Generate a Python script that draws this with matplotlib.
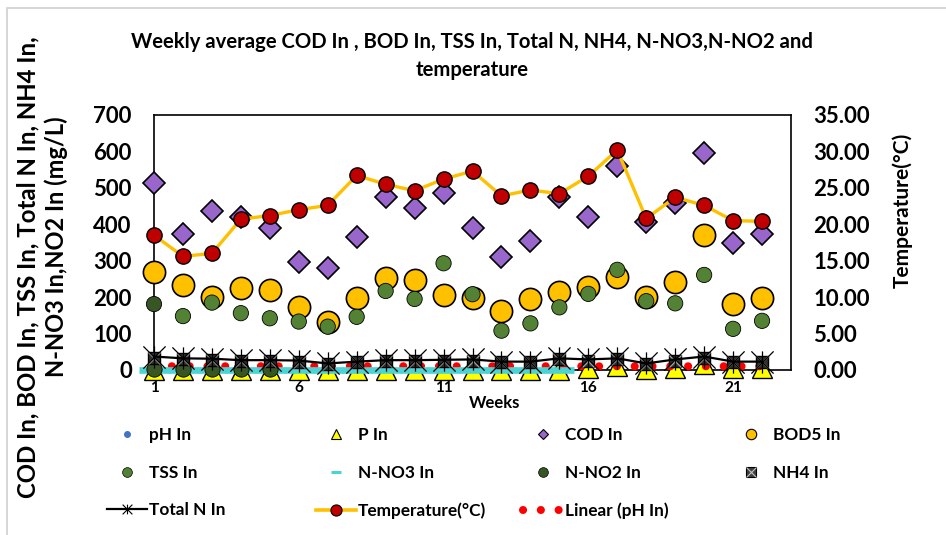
import numpy as np
import matplotlib
matplotlib.use("Agg")
import matplotlib.pyplot as plt
from matplotlib.lines import Line2D
from matplotlib.path import Path
from matplotlib.patches import Rectangle

plt.rcParams['font.family'] = ['Lato', 'DejaVu Sans']
plt.rcParams['font.weight'] = 'bold'

# weekly averages
weeks = np.arange(1, 23)
ph_in = [10.4, 10.1, 10.3, 10.5, 10.0, 10.3, 10.4, 10.1, 10.3, 10.4, 10.2,
         10.1, 10.5, 10.3, 10.4, 10.1, 10.2, 10.4, 10.0, 10.3, 10.4, 10.1]
p_in = [0.5, 0.5, 0.5, 0.5, 0.5, 0.5, 0.5, 0.5, 0.5, 0.5, 0.5,
        0.5, 0.5, 0.5, 0.5, 5, 11, 4, 6, 16, 6, 5]
cod_in = [512, 372, 436, 419, 389, 297, 281, 366, 476, 444, 487,
          391, 309, 354, 476, 421, 560, 405, 458, 597, 350, 372]
bod5_in = [270, 233, 201, 224, 220, 174, 133, 197, 252, 247, 206,
           197, 162, 194, 213, 227, 256, 200, 242, 371, 180, 197]
tss_in = [181, 148, 185, 156, 142, 133, 119, 146, 217, 195, 293,
          208, 108, 128, 172, 209, 275, 189, 183, 261, 113, 135]
n_no3_in = [1.2, 0.9, 1.1, 0.8, 1.0, 0.7, 0.9, 1.1, 0.8, 1.0, 0.9,
            1.2, 0.8, 1.0, 0.9, np.nan, np.nan, np.nan, np.nan, np.nan, np.nan, np.nan]
n_no2_in = [2.5, 2.0, 1.8, 2.2, 1.5, np.nan, np.nan, np.nan, np.nan, np.nan, np.nan,
            np.nan, np.nan, np.nan, np.nan, np.nan, np.nan, np.nan, np.nan, np.nan, np.nan, np.nan]
nh4_in = [34, 29, 28, 24, 24, 23, 16, 21, 24, 24, 25,
          26, 21, 21, 29, 26, 29, 16, 26, 34, 21, 21]
total_n_in = [37, 32, 31, 27, 27, 26, 18, 23, 27, 27, 28,
              29, 23, 23, 32, 29, 32, 18, 29, 37, 23, 23]
temperature = [18.5, 15.6, 16.0, 20.7, 21.2, 22.0, 22.6, 26.7, 25.5, 24.6, 26.2,
               27.3, 23.9, 24.7, 24.2, 26.6, 30.2, 20.8, 23.7, 22.6, 20.5, 20.4]

# colours
c_ph = '#4472C4'
c_p = '#FFFF00'
c_cod = '#9966CC'
c_bod = '#FFC000'
c_tss = '#548235'
c_no3 = '#4DD3D3'
c_no2 = '#375623'
c_temp = '#C00000'

# excel style star marker (x with a vertical bar)
star = Path([(-1, -1), (1, 1), (-1, 1), (1, -1), (0, -1), (0, 1)],
            [Path.MOVETO, Path.LINETO, Path.MOVETO, Path.LINETO, Path.MOVETO, Path.LINETO])

fig = plt.figure(figsize=(9.46, 5.35), dpi=100)
ax = fig.add_axes([154/946, 1-370/535, (791-154)/946, (370-115)/535])
ax2 = ax.twinx()

#pH and its linear trend
ax.plot(weeks, ph_in, ls='none', marker='o', ms=4, color=c_ph, zorder=2, clip_on=False)
coef = np.polyfit(weeks, ph_in, 1)
ax.plot(weeks, np.polyval(coef, weeks), color='#FF0000', lw=5.8, ls=(0, (0.01, 2.2)),
        dash_capstyle='round', zorder=3.5, clip_on=False)

ax.plot(weeks, p_in, ls='none', marker='^', ms=14, mfc=c_p, mec='black', mew=1,
        zorder=3, clip_on=False)
ax.plot(weeks, cod_in, ls='none', marker='D', ms=11.5, mfc=c_cod, mec='black', mew=1.2,
        zorder=4, clip_on=False)
ax.plot(weeks, bod5_in, ls='none', marker='o', ms=16, mfc=c_bod, mec='black', mew=1.2,
        zorder=5, clip_on=False)
tss_colors = [c_no2] + [c_tss]*(len(tss_in)-1)
ax.scatter(weeks, tss_in, s=11**2, c=tss_colors, edgecolors='black', linewidths=0.6,
           zorder=6, clip_on=False)
ax.plot(weeks, n_no3_in, ls='none', marker='_', ms=21, mew=4.8, color=c_no3,
        zorder=7, clip_on=False)
ax.plot(weeks, n_no2_in, ls='none', marker='o', ms=11, mfc=c_no2, mec='black', mew=0.6,
        zorder=8, clip_on=False)
ax.plot(weeks, nh4_in, ls='none', marker='s', ms=8, mfc='#303030', mec='black', mew=1,
        zorder=9, clip_on=False)
ax.plot(weeks, nh4_in, ls='none', marker='x', ms=8, mec='#a0a0a0', mew=1,
        zorder=9.5, clip_on=False)
ax.plot(weeks, total_n_in, color='black', lw=1.6, marker=star, ms=16, mew=0.9,
        mec='black', zorder=10, clip_on=False)

ax2.plot(weeks, temperature, color=c_bod, lw=2.4, marker='o', ms=11, mfc=c_temp,
         mec='black', mew=1, zorder=5, clip_on=False)

ax.set_xlim(1, 23)
ax.set_ylim(0, 700)
ax2.set_ylim(0, 35)
ax.set_xticks([1, 6, 11, 16, 21])
ax.set_yticks(np.arange(0, 701, 100))
ax2.set_yticks(np.arange(0, 36, 5))
ax2.set_yticklabels(['{:.2f}'.format(v) for v in np.arange(0, 36, 5)])

ax.tick_params(axis='y', length=0, pad=16, labelsize=16)
ax.tick_params(axis='x', length=0, pad=8, labelsize=11)
ax2.tick_params(axis='y', length=0, pad=16, labelsize=16)
for s in ax.spines.values():
    s.set_color('black')
    s.set_linewidth(1.2)
for s in ax2.spines.values():
    s.set_visible(False)

ax.set_xlabel('Weeks', fontsize=12, fontweight='bold')
ax.xaxis.set_label_coords((495-154)/637, -0.1)

fig.text(472/946, 1-42/535, 'Weekly average COD In , BOD In, TSS In, Total N, NH4, N-NO3,N-NO2 and',
         ha='center', va='center', fontsize=14.6, fontweight='bold')
fig.text(472/946, 1-70/535, 'temperature', ha='center', va='center', fontsize=14.6, fontweight='bold')

fig.text(28/946, 1-267/535, 'COD In, BOD In, TSS In, Total N In, NH4 In,', rotation=90,
         ha='center', va='center', fontsize=17.3, fontweight='bold')
fig.text(56/946, 1-247/535, 'N-NO3 In,NO2 In (mg/L)', rotation=90,
         ha='center', va='center', fontsize=17, fontweight='bold')
fig.text(902/946, 1-210/535, 'Temperature(°C)', rotation=90,
         ha='center', va='center', fontsize=15, fontweight='bold')

# legend, laid out in four columns like the original
h_ph = Line2D([], [], ls='none', marker='o', ms=4, color=c_ph)
h_p = Line2D([], [], ls='none', marker='^', ms=7, mfc=c_p, mec='black', mew=0.8)
h_cod = Line2D([], [], ls='none', marker='D', ms=5.5, mfc=c_cod, mec='black', mew=0.8)
h_bod = Line2D([], [], ls='none', marker='o', ms=7.5, mfc=c_bod, mec='black', mew=0.8)
h_tss = Line2D([], [], ls='none', marker='o', ms=7, mfc=c_tss, mec='black', mew=0.5)
h_no3 = Line2D([], [], ls='none', marker='_', ms=6.5, mew=2.2, color=c_no3)
h_no2 = Line2D([], [], ls='none', marker='o', ms=7, mfc=c_no2, mec='black', mew=0.5)
h_nh4 = (Line2D([], [], ls='none', marker='s', ms=7, mfc='#404040', mec='black', mew=0.8),
         Line2D([], [], ls='none', marker='x', ms=7, mec='#c0c0c0', mew=0.8))
h_tn = Line2D([], [], color='black', lw=1.6, marker=star, ms=7, mew=0.8, mec='black')
h_temp = Line2D([], [], color=c_bod, lw=2.6, marker='o', ms=8, mfc=c_temp, mec='black', mew=0.8)
h_lin = Line2D([], [], color='#FF0000', lw=5.8, ls=(0, (0.01, 2.2)), dash_capstyle='round')

columns = [
    ([h_ph, h_tss, h_tn], ['pH In', 'TSS In', 'Total N In'], 107),
    ([h_p, h_no3, h_temp], ['P In', 'N-NO3 In', 'Temperature(°C)'], 316),
    ([h_cod, h_no2, h_lin], ['COD In', 'N-NO2 In', 'Linear (pH In)'], 523),
    ([h_bod, h_nh4], ['BOD5 In', 'NH4 In'], 731),
]
for handles, labels, x0 in columns:
    fig.legend(handles, labels, loc='upper left', bbox_to_anchor=(x0/946, 1-427/535),
               frameon=False, handlelength=2.3, handletextpad=0.12,
               borderpad=0, borderaxespad=0, labelspacing=1.25,
               prop={'weight': 'bold', 'size': 12.4})

# light chart-area border
fig.patches.append(Rectangle((7/946, -0.1), 1.2, 1-8/535+0.1, transform=fig.transFigure,
                             fill=False, edgecolor='#d0d0d0', lw=1.2))

fig.savefig('out.png', dpi=100)
